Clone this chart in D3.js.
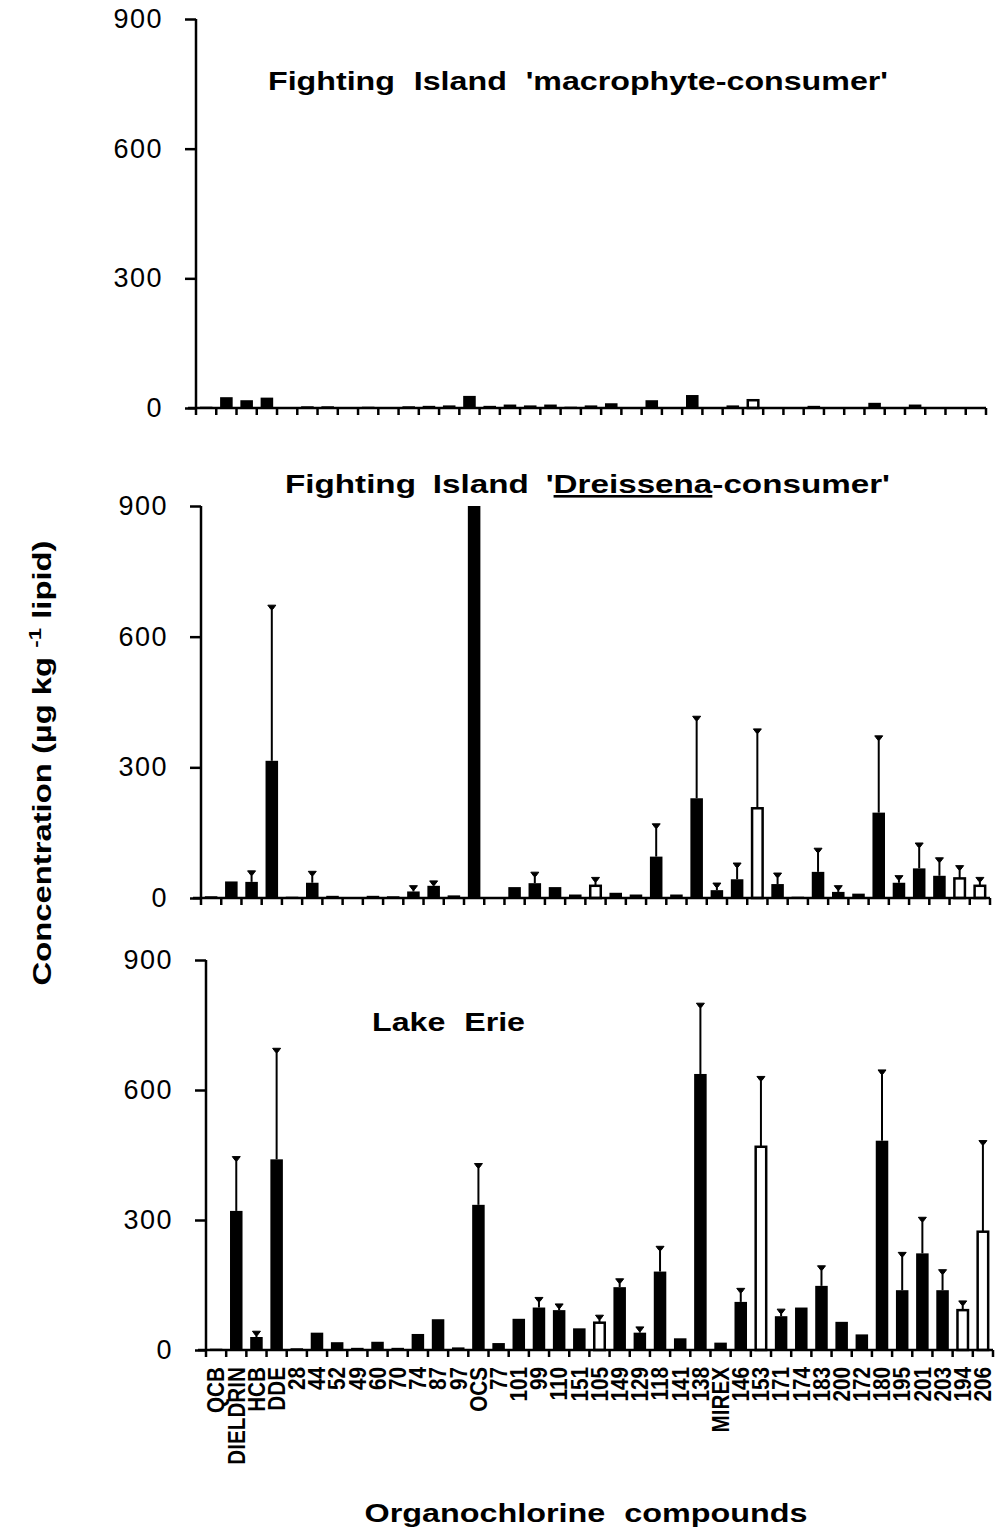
<!DOCTYPE html>
<html><head><meta charset="utf-8">
<script src="https://cdn.jsdelivr.net/npm/d3@7"></script>
<style>
html,body{margin:0;padding:0;background:#fff;}
svg{display:block;font-family:"Liberation Sans",Arial,Helvetica,sans-serif;}
</style></head>
<body>
<svg id="chart" width="996" height="1535"></svg>
<script>
const compounds = ["QCB","DIELDRIN","HCB","DDE","28","44","52","49","60","70","74","87","97","OCS","77","101","99","110","151","105","149","129","118","141","138","MIREX","146","153","171","174","183","200","172","180","195","201","203","194","206"];
const openCompounds = ["105","153","194","206"];
const yTicks = [0,300,600,900];

const macroVals = [3,25,18,24,2,4,4,1,3,1,4,5,6,28,5,8,6,8,3,6,11,2,18,2,30,2,6,18,1,1,5,1,2,12,2,8,2,1,1];

const dreisVals = [4,38,37,315,3,35,5,2,5,4,15,28,6,950,2,25,34,25,8,28,12,8,95,8,229,18,43,206,32,3,60,14,10,196,35,68,51,45,28];
const dreisErr  = [null,null,60,670,null,59,null,null,null,null,26,37,null,null,null,null,57,null,null,45,null,null,168,null,415,32,78,386,55,null,112,26,null,370,49,124,90,72,45];

const erieVals = [3,321,30,440,4,40,18,5,19,5,37,71,6,335,16,72,98,92,50,63,145,40,181,27,637,17,111,469,78,98,148,65,36,483,138,223,138,92,273];
const erieErr  = [null,444,41,694,null,null,null,null,null,null,null,null,null,428,null,null,119,104,null,78,162,51,237,null,798,null,140,629,92,null,192,null,null,644,223,304,183,111,481];

const svg = d3.select("#chart");
const panels = [
  {vals: macroVals, err: null, x0: 196, x1: 986, y0: 408, y1: 19, open: ["153"]},
  {vals: dreisVals, err: dreisErr, x0: 201, x1: 990, y0: 898, y1: 506, open: openCompounds},
  {vals: erieVals, err: erieErr, x0: 206, x1: 993, y0: 1350, y1: 960, open: openCompounds, labels: true}
];

panels.forEach(p => {
  const x = d3.scaleBand().domain(compounds).range([p.x0, p.x1]).paddingInner(0.38).paddingOuter(0.19);
  const xb = d3.scaleBand().domain(compounds).range([p.x0, p.x1]);
  const y = d3.scaleLinear().domain([0, 900]).range([p.y0, p.y1]);
  const g = svg.append("g");
  const data = compounds.map((c, i) => ({c, v: Math.min(p.vals[i], 900), e: p.err ? p.err[i] : null}));

  // error bars
  g.selectAll("line.err").data(data.filter(d => d.e != null)).join("line")
    .attr("x1", d => x(d.c) + x.bandwidth()/2).attr("x2", d => x(d.c) + x.bandwidth()/2)
    .attr("y1", d => y(d.v)).attr("y2", d => y(Math.min(d.e, 900)))
    .attr("stroke", "#000").attr("stroke-width", 2);
  g.selectAll("path.cap").data(data.filter(d => d.e != null)).join("path")
    .attr("d", d => { const cx = x(d.c) + x.bandwidth()/2, cy = y(Math.min(d.e, 900));
      return `M${cx-4},${cy-1}L${cx+4},${cy-1}L${cx+1},${cy+3}L${cx-1},${cy+3}Z`; })
    .attr("fill", "#000").attr("stroke", "#000").attr("stroke-width", 1);

  // bars
  g.selectAll("rect.bar").data(data).join("rect")
    .attr("x", d => p.open.includes(d.c) ? x(d.c) + 1 : x(d.c))
    .attr("width", d => p.open.includes(d.c) ? x.bandwidth() - 2 : x.bandwidth())
    .attr("y", d => y(d.v))
    .attr("height", d => Math.max(0, p.y0 - y(d.v)))
    .attr("fill", d => p.open.includes(d.c) ? "#fff" : "#000")
    .attr("stroke", "#000").attr("stroke-width", d => p.open.includes(d.c) ? 2.5 : 0);

  // y axis
  const ya = g.append("g").attr("transform", `translate(${p.x0},0)`)
    .call(d3.axisLeft(y).tickValues(yTicks).tickSize(11).tickPadding(22).tickFormat(d3.format("d")));
  ya.select(".domain").attr("stroke-width", 2.5).attr("d", `M0,${p.y1}V${p.y0}`);
  ya.selectAll(".tick line").attr("stroke-width", 2.5);
  ya.selectAll(".tick text").attr("font-size", 27).attr("letter-spacing", 1.5).attr("fill", "#000")
    .attr("font-family", "'Liberation Sans',Arial,sans-serif");

  // x axis: ticks at band boundaries
  const bounds = compounds.map(c => xb(c)).concat([p.x1]);
  g.append("line").attr("x1", p.x0 - 8).attr("x2", p.x1).attr("y1", p.y0).attr("y2", p.y0)
    .attr("stroke", "#000").attr("stroke-width", 2.5);
  g.selectAll("line.xt").data(bounds).join("line")
    .attr("x1", d => d).attr("x2", d => d).attr("y1", p.y0).attr("y2", p.y0 + 7)
    .attr("stroke", "#000").attr("stroke-width", 2.5);

  if (p.labels) {
    g.selectAll("text.xl").data(compounds).join("text")
      .attr("transform", c => `translate(${xb(c) + xb.bandwidth()/2},1367) rotate(-90) scale(0.9,1)`)
      .attr("text-anchor", "end").attr("dy", "0.36em")
      .attr("font-size", 23).attr("font-weight", "bold").attr("fill", "#000")
      .text(c => c);
  }
});

// panel titles
svg.append("text").attr("x", 268).attr("y", 90).attr("font-size", 26).attr("font-weight", "bold")
  .attr("textLength", 620).attr("lengthAdjust", "spacingAndGlyphs").attr("word-spacing", 8)
  .text("Fighting Island 'macrophyte-consumer'");

const t2 = svg.append("text").attr("x", 285).attr("y", 493).attr("font-size", 26).attr("font-weight", "bold")
  .attr("textLength", 605).attr("lengthAdjust", "spacingAndGlyphs").attr("word-spacing", 6);
t2.append("tspan").text("Fighting Island '");
t2.append("tspan").attr("text-decoration", "underline").text("Dreissena");
t2.append("tspan").text("-consumer'");

svg.append("text").attr("x", 372).attr("y", 1031).attr("font-size", 26).attr("font-weight", "bold")
  .attr("textLength", 153).attr("lengthAdjust", "spacingAndGlyphs").attr("word-spacing", 8).text("Lake Erie");

// axis titles
const yt = svg.append("text").attr("transform", "translate(51,763) rotate(-90)")
  .attr("text-anchor", "middle").attr("font-size", 25).attr("font-weight", "bold")
  .attr("textLength", 445).attr("lengthAdjust", "spacingAndGlyphs");
yt.append("tspan").text("Concentration (\u00B5g kg ");
yt.append("tspan").attr("dy", -10).attr("font-size", 17).text("-1");
yt.append("tspan").attr("dy", 10).text(" lipid)");

svg.append("text").attr("x", 586).attr("y", 1522).attr("text-anchor", "middle")
  .attr("font-size", 26).attr("font-weight", "bold").attr("word-spacing", 8)
  .attr("textLength", 443).attr("lengthAdjust", "spacingAndGlyphs").text("Organochlorine compounds");
</script>
</body></html>
